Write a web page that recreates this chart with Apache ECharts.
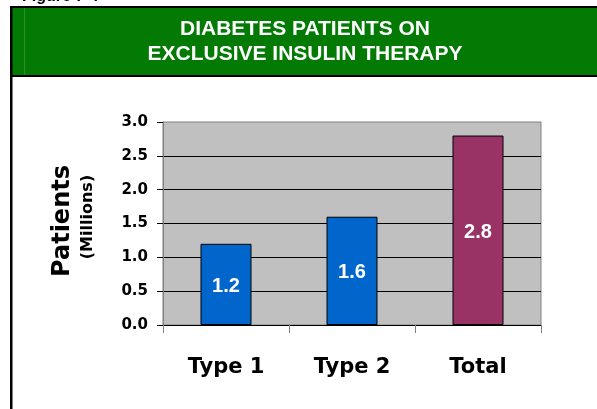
<!DOCTYPE html>
<html>
<head>
<meta charset="utf-8">
<script src="https://cdn.jsdelivr.net/npm/echarts@6/dist/echarts.min.js"></script>
<style>
  html, body { margin: 0; padding: 0; background: #fff; }
  #main { width: 597px; height: 409px; }
</style>
</head>
<body>
<div id="main"></div>
<script>
// data
var categories = ['Type 1', 'Type 2', 'Total'];
var patients = [1.2, 1.6, 2.8];           // millions
var barColors = ['#0066CC', '#0066CC', '#993366'];
var yTicks = [0, 0.5, 1, 1.5, 2, 2.5, 3];

var chart = echarts.init(document.getElementById('main'), null, { renderer: 'canvas' });

var seriesData = patients.map(function (v, i) {
  return { value: v, itemStyle: { color: barColors[i] } };
});

var option = {
  animation: false,
  backgroundColor: '#ffffff',
  grid: {
    left: 163, right: 56, top: 122, bottom: 84,
    show: true,
    backgroundColor: '#C0C0C0',
    borderColor: '#808080',
    borderWidth: 1
  },
  xAxis: {
    type: 'category',
    data: categories,
    axisLine: { lineStyle: { color: '#000', width: 1 } },
    axisTick: { show: true, length: 8, lineStyle: { color: '#808080' } },
    axisLabel: {
      margin: 32,
      color: '#000',
      fontFamily: 'DejaVu Sans',
      fontWeight: 'bold',
      fontSize: 21
    }
  },
  yAxis: {
    type: 'value',
    min: yTicks[0],
    max: yTicks[yTicks.length - 1],
    interval: 0.5,
    axisLine: { show: true, lineStyle: { color: '#808080' } },
    axisTick: { show: true, length: 6, lineStyle: { color: '#000' } },
    axisLabel: {
      margin: 15,
      color: '#000',
      fontFamily: 'DejaVu Sans',
      fontWeight: 'bold',
      fontSize: 15,
      formatter: function (v) { return v.toFixed(1); }
    },
    splitLine: {
      show: true,
      showMinLine: false,
      showMaxLine: false,
      lineStyle: { color: '#000', width: 1 }
    }
  },
  series: [{
    type: 'bar',
    data: seriesData,
    barWidth: 51,
    itemStyle: { borderColor: '#000', borderWidth: 1 },
    label: {
      show: true,
      position: 'inside',
      offset: [0, 2],
      color: '#fff',
      fontFamily: 'Liberation Sans',
      fontWeight: 'bold',
      fontSize: 20,
      formatter: function (p) { return p.value.toFixed(1); }
    }
  }],
  graphic: [
    // caption cut off at the top edge
    { type: 'text', left: 22, top: -11,
      style: { text: 'Figure 7-4', fill: '#000', font: 'bold 16px "Liberation Sans"' } },
    // green header band with black rules
    { type: 'rect', shape: { x: 12, y: 8, width: 585, height: 67 }, style: { fill: '#037A03' } },
    { type: 'line', shape: { x1: 24.5, y1: 8, x2: 24.5, y2: 75 }, style: { stroke: '#2C8E2C', lineWidth: 1 } },
    { type: 'rect', shape: { x: 10, y: 6, width: 587, height: 2 }, style: { fill: '#000' } },
    { type: 'rect', shape: { x: 10, y: 75, width: 587, height: 2 }, style: { fill: '#000' } },
    { type: 'rect', shape: { x: 10, y: 6, width: 2.5, height: 403 }, style: { fill: '#000' } },
    { type: 'text', x: 305, y: 29,
      style: { text: 'DIABETES PATIENTS ON', fill: '#fff', align: 'center', verticalAlign: 'middle',
               font: 'bold 21px "Liberation Sans"' } },
    { type: 'text', x: 305, y: 54,
      style: { text: 'EXCLUSIVE INSULIN THERAPY', fill: '#fff', align: 'center', verticalAlign: 'middle',
               font: 'bold 21px "Liberation Sans"' } },
    // y axis title
    { type: 'text', x: 63, y: 221, rotation: Math.PI / 2,
      style: { text: 'Patients', fill: '#000', align: 'center', verticalAlign: 'middle',
               font: 'bold 24px "DejaVu Sans"' } },
    { type: 'text', x: 88, y: 217, rotation: Math.PI / 2,
      style: { text: '(Millions)', fill: '#000', align: 'center', verticalAlign: 'middle',
               font: 'bold 16px "DejaVu Sans"' } }
  ]
};

chart.setOption(option);
</script>
</body>
</html>
